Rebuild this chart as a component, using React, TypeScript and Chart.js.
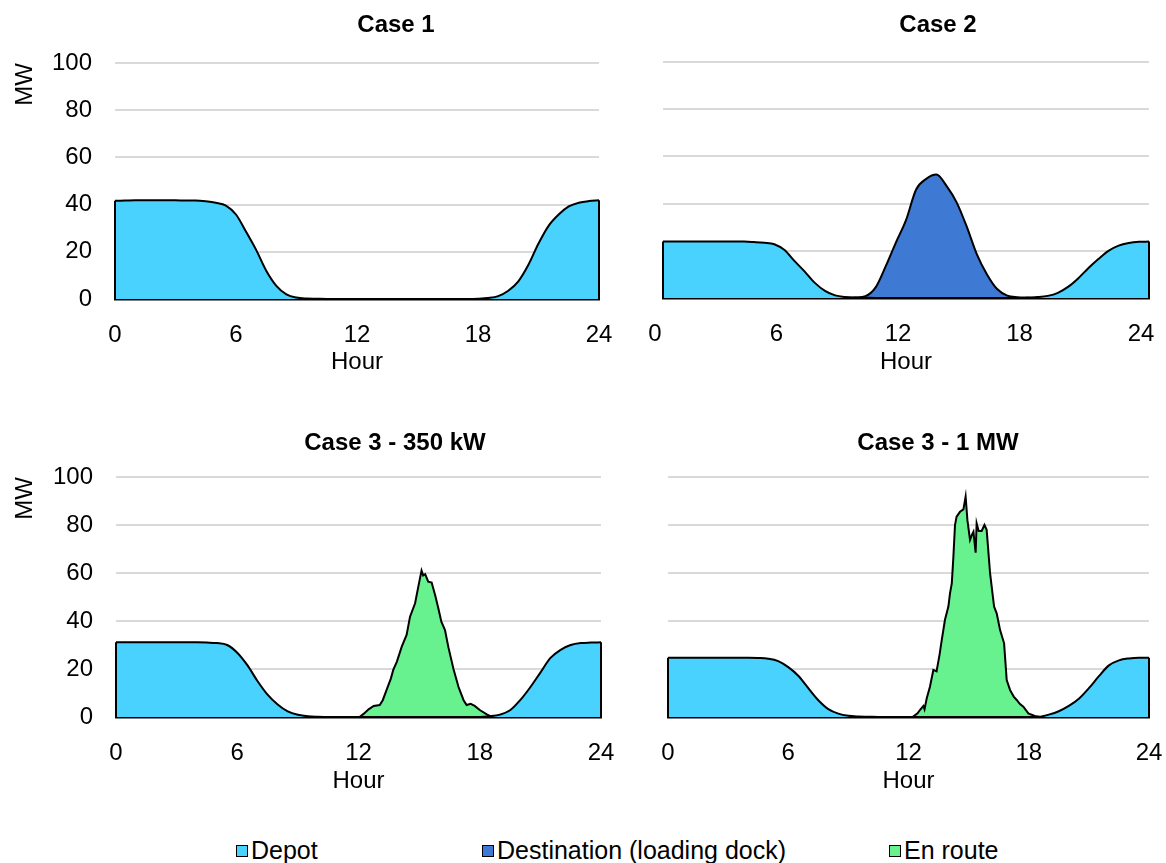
import React, { useEffect, useRef } from 'react';
import { Chart, registerables } from 'chart.js';

Chart.register(...registerables);

const FONT = '"Liberation Sans", Arial, sans-serif';

// ---------- data ----------
const seriesNames = ['Depot', 'Destination (loading dock)', 'En route'];
const seriesColors = ['#48D2FD', '#3E7AD3', '#67F28F'];

const panelTitles = ['Case 1', 'Case 2', 'Case 3 - 350 kW', 'Case 3 - 1 MW'];
const xTickStep = 6;
const yTickStep = 20;

const depotHours = [
  0, 0.5, 1, 1.5, 2, 2.5, 3, 3.5, 4, 4.5, 5, 5.5, 6, 6.5, 7, 7.5, 8, 8.5, 9, 9.5,
  10, 10.5, 11, 11.5, 12, 12.5, 13, 13.5, 14, 14.5, 15, 15.5, 16, 16.5, 17, 17.5,
  18, 18.5, 19, 19.5, 20, 20.5, 21, 21.5, 22, 22.5, 23, 23.5, 24,
];

const case1Depot = [
  41.6, 41.7, 41.8, 41.8, 41.8, 41.8, 41.8, 41.7, 41.7, 41.4, 40.8, 39.6, 35.8, 28.5, 20.8, 12.0, 5.6, 2.0, 0.6, 0.2,
  0.1, 0, 0, 0, 0, 0, 0, 0, 0, 0, 0, 0, 0, 0, 0, 0,
  0.1, 0.4, 1.2, 3.5, 7.5, 14.5, 23.5, 31.0, 35.8, 39.2, 40.8, 41.5, 41.8,
];

const case2Depot = [
  23.9, 23.9, 23.9, 23.9, 23.9, 23.9, 23.9, 23.9, 23.9, 23.7, 23.4, 22.8, 20.3, 15.6, 11.2, 6.4, 3.0, 1.1, 0.4, 0.2,
  0.1, 0, 0, 0, 0, 0, 0, 0, 0, 0, 0, 0, 0, 0, 0, 0,
  0.2, 0.4, 0.9, 2.2, 4.7, 8.3, 12.6, 16.5, 20.0, 22.2, 23.3, 23.8, 23.9,
];

const case2DestHours = [9, 9.5, 10, 10.5, 11, 11.5, 12, 12.5, 13, 13.5, 14, 14.5, 15, 15.5, 16, 16.5, 17, 17.5, 18, 18.5, 19];
const case2Dest = [0, 0.2, 0.8, 4.5, 13.5, 23.5, 33.0, 46.0, 50.5, 52.3, 47.5, 40.5, 30.2, 18.5, 10.0, 3.8, 1.0, 0.3, 0.1, 0, 0];

const case3aDepot = [
  31.1, 31.1, 31.1, 31.1, 31.1, 31.1, 31.1, 31.1, 31.1, 31.0, 30.8, 30.0, 26.8, 21.6, 15.0, 9.3, 5.2, 2.3, 0.9, 0.3,
  0.1, 0, 0, 0, 0, 0, 0, 0, 0, 0, 0, 0, 0, 0, 0, 0,
  0, 0.3, 1.0, 2.8, 7.0, 12.4, 18.5, 24.6, 28.0, 30.0, 30.8, 31.0, 31.1,
];

const case3aRouteHours = [
  11.5, 12.05, 12.25, 12.5, 12.75, 13.05, 13.2, 13.4, 13.6, 13.72, 13.9, 14.14, 14.38, 14.55, 14.8, 14.96,
  15.12, 15.2, 15.3, 15.45, 15.62, 15.8, 15.95, 16.1, 16.28, 16.45, 16.7, 16.95, 17.2, 17.35, 17.55, 17.75,
  18.0, 18.35, 18.6,
];
const case3aRoute = [
  0, 0, 1.3, 3.2, 4.6, 5.0, 7.0, 11.5, 16.0, 19.6, 23.1, 29.3, 34.2, 41.8, 47.4, 54.3,
  61.0, 59.0, 59.5, 56.4, 56.0, 50.5, 45.3, 39.7, 36.2, 29.0, 20.0, 12.5, 7.0, 5.0, 5.5, 4.6,
  2.9, 1.1, 0,
];

const case3bDepot = [
  24.7, 24.7, 24.7, 24.7, 24.7, 24.7, 24.7, 24.7, 24.7, 24.6, 24.3, 23.3, 20.8, 17.2, 12.0, 7.0, 3.3, 1.4, 0.5, 0.2,
  0.1, 0, 0, 0, 0, 0, 0, 0, 0, 0, 0, 0, 0, 0, 0, 0,
  0, 0.1, 1.0, 2.4, 4.6, 7.6, 12.0, 17.0, 21.5, 23.6, 24.4, 24.7, 24.7,
];

const case3bRouteHours = [
  11.8, 12.2, 12.45, 12.57, 12.74, 12.8, 12.91, 13.07, 13.24, 13.4, 13.55, 13.66, 13.82, 13.99, 14.07, 14.16,
  14.24, 14.32, 14.4, 14.57, 14.74, 14.85, 14.94, 15.07, 15.17, 15.24, 15.35, 15.4, 15.5, 15.65, 15.79, 15.9,
  16.07, 16.27, 16.4, 16.57, 16.77, 16.9, 17.07, 17.25, 17.4, 17.55, 17.73, 17.98, 18.3, 18.55,
];
const case3bRoute = [
  0, 0, 1.5, 2.9, 4.6, 3.2, 7.8, 12.6, 19.6, 19.0, 26.0, 32.1, 40.5, 46.0, 51.5, 55.7,
  66.8, 80.0, 83.5, 85.5, 86.5, 91.8, 82.0, 73.8, 76.0, 77.2, 68.5, 80.7, 77.5, 77.5, 80.0, 78.0,
  59.9, 46.0, 43.2, 36.2, 30.7, 15.4, 11.2, 8.5, 7.1, 5.5, 4.3, 1.5, 0.4, 0,
];

// ---------- helpers ----------
const toPoints = (hours: number[], vals: number[]) => hours.map((h, i) => ({ x: h, y: vals[i] }));

function areaDataset(seriesIdx: number, hours: number[], vals: number[], smooth: boolean, edges: boolean) {
  return {
    label: seriesNames[seriesIdx],
    data: toPoints(hours, vals),
    backgroundColor: seriesColors[seriesIdx],
    borderColor: '#000000',
    borderWidth: 2,
    fill: 'origin',
    pointRadius: 0,
    cubicInterpolationMode: smooth ? 'monotone' : 'default',
    tension: 0,
    edges,
  };
}

const edgePlugin = {
  id: 'areaEdges',
  afterDatasetsDraw(chart: any) {
    const ctx = chart.ctx;
    const yScale = chart.scales.y;
    const base = yScale.getPixelForValue(0);
    chart.data.datasets.forEach((ds: any, i: number) => {
      if (!ds.edges) return;
      const pts = chart.getDatasetMeta(i).data;
      if (!pts.length) return;
      ctx.save();
      ctx.strokeStyle = ds.borderColor;
      ctx.lineWidth = ds.borderWidth;
      [pts[0], pts[pts.length - 1]].forEach((p: any) => {
        ctx.beginPath();
        ctx.moveTo(p.x, p.y);
        ctx.lineTo(p.x, base);
        ctx.stroke();
      });
      ctx.restore();
    });
  },
};

type PanelCfg = {
  left: number; top: number; width: number; height: number;
  yWidth: number; rightPad: number; xHeight: number;
  titleTop: number; titleBottom: number; hourBottom: number;
  showY: boolean; labelOffset: number; title: string; datasets: any[];
};

function Panel({ cfg }: { cfg: PanelCfg }) {
  const ref = useRef<HTMLCanvasElement>(null);
  useEffect(() => {
    const chart = new Chart(ref.current as HTMLCanvasElement, {
      type: 'line',
      data: { datasets: cfg.datasets },
      options: {
        animation: false,
        responsive: false,
        devicePixelRatio: 1,
        layout: { padding: 0 },
        plugins: {
          legend: { display: false },
          tooltip: { enabled: false },
          title: {
            display: true,
            text: cfg.title,
            color: '#000000',
            font: { family: FONT, size: 24, weight: 'bold', lineHeight: 1.2 },
            padding: { top: cfg.titleTop, bottom: cfg.titleBottom },
          },
        },
        scales: {
          x: {
            type: 'linear',
            min: 0,
            max: 24,
            grid: { display: false },
            border: { display: true, color: '#000000', width: 2.5 },
            ticks: {
              stepSize: xTickStep,
              color: '#000000',
              font: { family: FONT, size: 24, lineHeight: 1 },
              padding: 16,
              labelOffset: cfg.labelOffset,
              maxRotation: 0,
            },
            title: {
              display: true,
              text: 'Hour',
              color: '#000000',
              font: { family: FONT, size: 24, lineHeight: 1.2 },
              padding: { top: 0, bottom: cfg.hourBottom },
            },
            afterFit: (s: any) => { s.height = cfg.xHeight; },
          },
          y: {
            type: 'linear',
            position: 'left',
            min: 0,
            max: 100,
            grid: { color: '#D9D9D9', lineWidth: 2, drawTicks: false },
            border: { display: false },
            ticks: {
              display: cfg.showY,
              stepSize: yTickStep,
              color: '#000000',
              font: { family: FONT, size: 24 },
              padding: 23,
            },
            title: {
              display: cfg.showY,
              text: 'MW',
              align: 'end',
              color: '#000000',
              font: { family: FONT, size: 24, lineHeight: 1.2 },
              padding: { top: 10.6, bottom: 0 },
            },
            afterFit: (s: any) => { s.width = cfg.yWidth; },
          },
          pad: {
            type: 'linear',
            position: 'right',
            display: true,
            grid: { display: false },
            border: { display: false },
            ticks: { display: false },
            afterFit: (s: any) => { s.width = cfg.rightPad; },
          },
        },
      } as any,
      plugins: [edgePlugin],
    });
    return () => chart.destroy();
  }, []);
  return (
    <canvas
      ref={ref}
      width={cfg.width}
      height={cfg.height}
      style={{ position: 'absolute', left: cfg.left, top: cfg.top, width: cfg.width, height: cfg.height }}
    />
  );
}

const panels: PanelCfg[] = [
  {
    left: 0, top: 0, width: 792, height: 389, yWidth: 115, rightPad: 193, xHeight: 90,
    titleTop: 10.6, titleBottom: 23.6, hourBottom: 12.6, showY: true, labelOffset: 0,
    title: panelTitles[0],
    datasets: [areaDataset(0, depotHours, case1Depot, true, true)],
  },
  {
    left: 610, top: 0, width: 656, height: 388, yWidth: 53, rightPad: 117, xHeight: 90,
    titleTop: 10.6, titleBottom: 22.6, hourBottom: 11.6, showY: false, labelOffset: -8,
    title: panelTitles[1],
    datasets: [
      areaDataset(0, depotHours, case2Depot, true, true),
      areaDataset(1, case2DestHours, case2Dest, true, false),
    ],
  },
  {
    left: 0, top: 400, width: 790, height: 407, yWidth: 116, rightPad: 189, xHeight: 90,
    titleTop: 28.6, titleBottom: 19.6, hourBottom: 11.6, showY: true, labelOffset: 0,
    title: panelTitles[2],
    datasets: [
      areaDataset(0, depotHours, case3aDepot, true, true),
      areaDataset(2, case3aRouteHours, case3aRoute, false, false),
    ],
  },
  {
    left: 610, top: 400, width: 656, height: 407, yWidth: 58, rightPad: 117, xHeight: 90,
    titleTop: 28.6, titleBottom: 19.6, hourBottom: 11.6, showY: false, labelOffset: 0,
    title: panelTitles[3],
    datasets: [
      areaDataset(0, depotHours, case3bDepot, true, true),
      areaDataset(2, case3bRouteHours, case3bRoute, false, false),
    ],
  },
];

const legendLefts = [236, 482, 889];

export default function App() {
  return (
    <div
      style={{
        position: 'absolute', left: 0, top: 0, width: 1166, height: 863,
        overflow: 'hidden', background: '#ffffff',
      }}
    >
      {panels.map((p, i) => <Panel key={i} cfg={p} />)}
      {seriesNames.map((name, i) => (
        <div
          key={name}
          style={{
            position: 'absolute', left: legendLefts[i], top: 836, height: 29,
            display: 'flex', alignItems: 'center',
            fontFamily: FONT, fontSize: 25, color: '#000000', whiteSpace: 'nowrap',
          }}
        >
          <span
            style={{
              display: 'inline-block', width: 10, height: 10, background: seriesColors[i],
              border: '1px solid #000000', marginRight: 3,
            }}
          />
          {name}
        </div>
      ))}
    </div>
  );
}
